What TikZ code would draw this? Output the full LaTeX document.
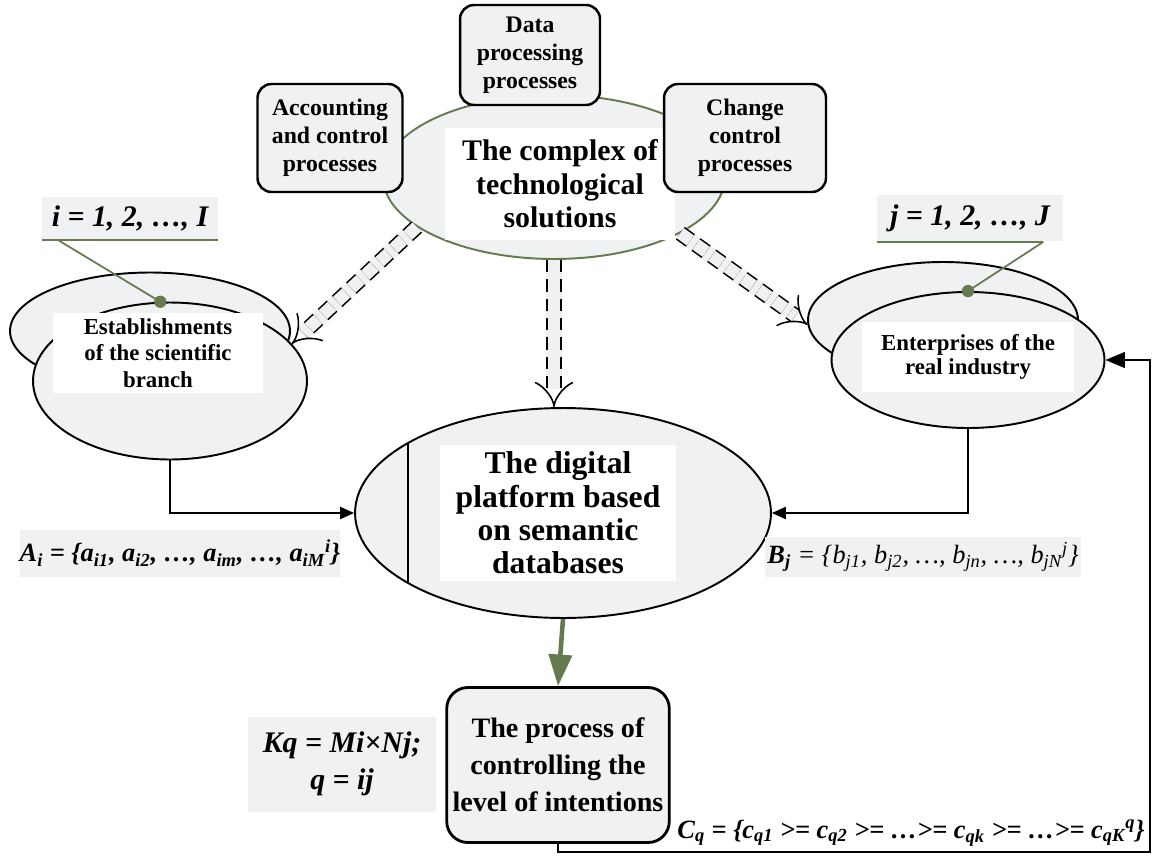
\documentclass[tikz,border=0pt]{standalone}
\usepackage{fontspec}
\setmainfont{Liberation Serif}
\usepackage{tikz}
\usetikzlibrary{arrows.meta,shapes.geometric,positioning,calc}
\definecolor{leafgreen}{HTML}{66794F}
\definecolor{paleback}{HTML}{EFF1F3}

\begin{document}
\begin{tikzpicture}[x=0.02cm,y=-0.02cm,
    oval/.style={ellipse,draw,line width=1.1pt,fill=paleback,inner sep=0pt},
    procbox/.style={draw,line width=1.4pt,rounded corners=8pt,fill=paleback,align=center,
      font=\fontsize{13.5}{16}\selectfont\bfseries},
    whitetxt/.style={fill=white,align=center,inner sep=0pt},
    tagbox/.style={fill=paleback,align=center,inner sep=0pt,font=\fontsize{17}{20}\selectfont\bfseries\itshape},
    hollow/.style={preaction={draw,paleback,line width=9pt,-,shorten >=10pt},
      draw,dash pattern=on 7pt off 4pt,line width=0.9pt,double=paleback,double distance=7pt,-{Implies[scale=1.2]}},
    link/.style={line width=0.8pt,-{Triangle[length=8pt,width=7pt]}}]
  \useasboundingbox (0,0) rectangle (1158,865);

  \node[oval,draw=leafgreen,minimum width=6.84cm,minimum height=3.28cm] (tech) at (554,177) {};
  \node[whitetxt,minimum width=4.62cm,minimum height=2.24cm,font=\fontsize{17}{19}\selectfont\bfseries]
    (techtxt) at (560,184) {The complex of\\technological\\solutions};
  \node[procbox,minimum width=2.8cm,minimum height=2cm] (data) at (530,55) {Data\\processing\\processes};
  \node[procbox,minimum width=2.9cm,minimum height=2.16cm] (acc) at (330,138) {Accounting\\and control\\processes};
  \node[procbox,minimum width=3.24cm,minimum height=2.16cm] (chg) at (745,138) {Change\\control\\processes};

  \node[oval,minimum width=5.6cm,minimum height=2.34cm] (estabback) at (150,331) {};
  \node[oval,minimum width=5.48cm,minimum height=3.14cm] (estab) at (170,381) {};
  \node[whitetxt,minimum width=4.22cm,minimum height=1.6cm,font=\fontsize{13}{15}\selectfont\bfseries]
    (estabtxt) at (158,353) {Establishments\\of the scientific\\branch};

  \node[oval,minimum width=5.4cm,minimum height=2.32cm] (entback) at (943,320) {};
  \node[oval,minimum width=5.46cm,minimum height=2.72cm] (ent) at (968,360) {};
  \node[whitetxt,minimum width=4.26cm,minimum height=1.42cm,font=\fontsize{13}{14}\selectfont\bfseries]
    (enttxt) at (968,357) {Enterprises of the\\real industry};

  \node[oval,minimum width=8.32cm,minimum height=4.2cm] (plat) at (563,513) {};
  \node[whitetxt,minimum width=4.72cm,minimum height=2.74cm,font=\fontsize{18}{19}\selectfont\bfseries]
    (plattxt) at (558,513) {The digital\\platform based\\on semantic\\databases};
  \draw[line width=1.1pt] (408,444) -- (408,582);

  \node[procbox,rounded corners=12pt,line width=1.6pt,minimum width=4.4cm,minimum height=3.1cm,
    font=\fontsize{16}{21}\selectfont\bfseries] (proc) at (558,765)
    {The process of\\controlling the\\level of intentions};

  \node[tagbox,minimum width=3.52cm,minimum height=0.86cm] (ilab) at (130,218) {i = 1, 2, \dots, I};
  \node[tagbox,minimum width=3.72cm,minimum height=0.94cm] (jlab) at (970,218) {j = 1, 2, \dots, J};
  \draw[leafgreen,line width=1.2pt] (ilab.south west) -- (ilab.south east);
  \draw[leafgreen,line width=1.2pt] (jlab.south west) -- ($(jlab.south east)+(-20,0)$);
  \draw[leafgreen,line width=1pt] ($(ilab.south west)+(16,0)$) -- (estab.97);
  \draw[leafgreen,line width=1pt] ($(jlab.south east)+(-20,0)$) -- (ent.north);
  \fill[leafgreen] (estab.97) circle (3.5pt) (ent.north) circle (3.5pt);

  \node[tagbox,minimum width=6.4cm,minimum height=0.94cm,font=\fontsize{15}{18}\selectfont\bfseries\itshape]
    (alab) at (180,553) {A\textsubscript{i} = \{a\textsubscript{i1}, a\textsubscript{i2}, \dots, a\textsubscript{im}, \dots, a\textsubscript{iM}\textsuperscript{i}\}};
  \node[tagbox,minimum width=6.34cm,minimum height=0.8cm,font=\fontsize{15}{17}\selectfont\itshape]
    (blab) at (923,557) {\textbf{B\textsubscript{j}} = \{b\textsubscript{j1}, b\textsubscript{j2}, \dots, b\textsubscript{jn}, \dots, b\textsubscript{jN}\textsuperscript{j}\}};
  \node[tagbox,minimum width=3.76cm,minimum height=1.9cm,font=\fontsize{17}{21}\selectfont\bfseries\itshape]
    (klab) at (342,764) {Kq = Mi×Nj;\\q = ij};
  \node[font=\fontsize{15}{17}\selectfont\bfseries\itshape,inner sep=0pt] (clab) at (911,833)
    {C\textsubscript{q} = \{c\textsubscript{q1} >= c\textsubscript{q2} >= \dots>= c\textsubscript{qk} >= \dots>= c\textsubscript{qK}\textsuperscript{q}\}};

  \draw[hollow] (tech.200) -- (estab.17);
  \draw[hollow] (tech.south) -- (tech.south |- plat.north);
  \draw[hollow] (tech.336) -- (entback.182);

  \draw[link] (estab.south) |- (plat.west);
  \draw[link] (ent.south) |- (plat.east);
  \draw[leafgreen,line width=2.6pt,-{Triangle[length=18pt,width=13pt]}] (plat.south) -- (proc.north);
  \coordinate (fb) at (1150,852);
  \draw[line width=0.8pt,-{Triangle[length=11pt,width=9pt]}] (proc.south) |- (fb) |- (ent.east);
\end{tikzpicture}
\end{document}
